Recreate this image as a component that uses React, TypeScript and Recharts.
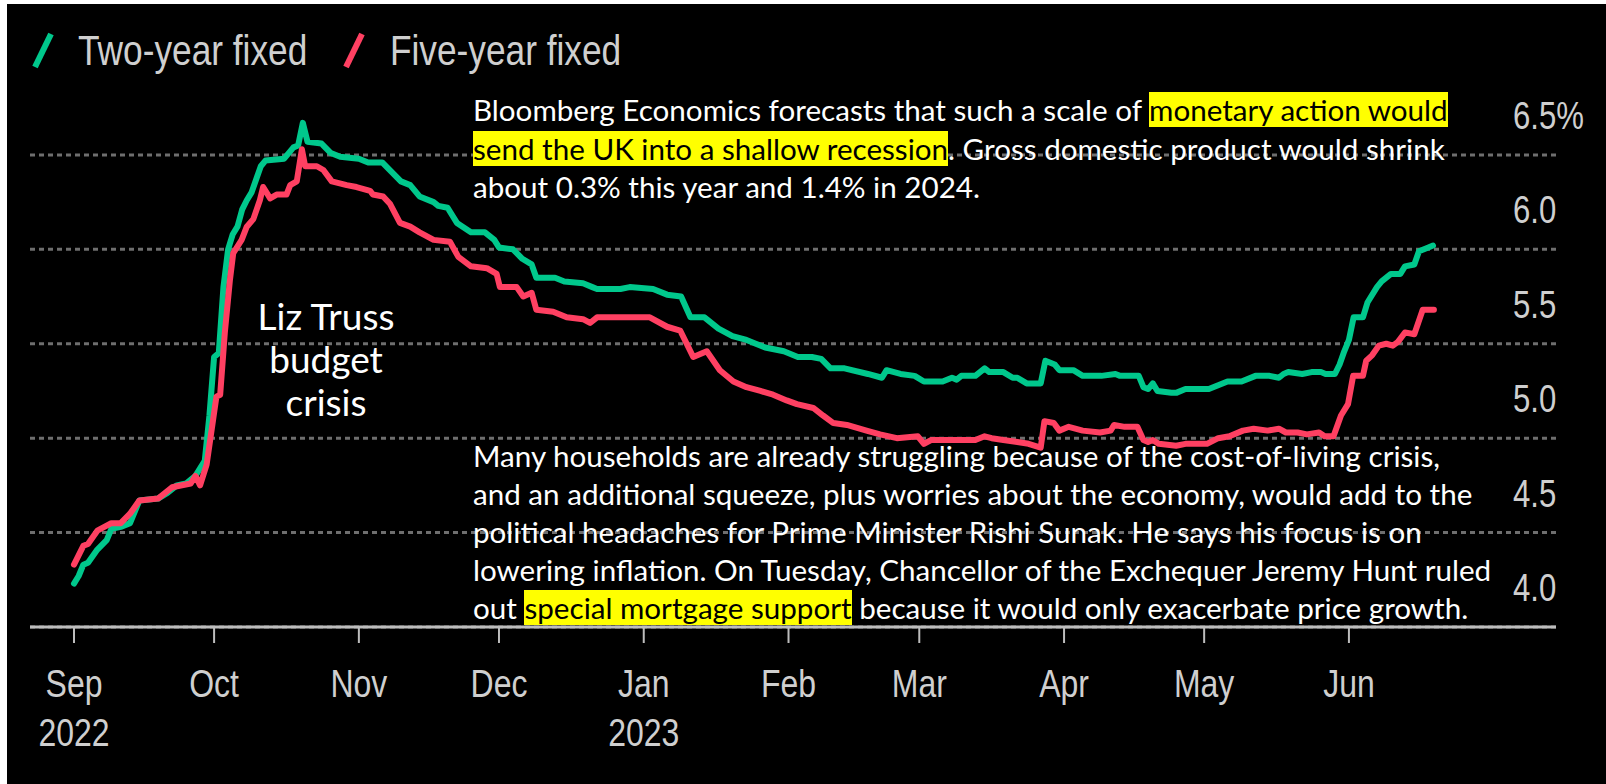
import React from "react"
import { LineChart, Line, XAxis, YAxis, CartesianGrid, Legend } from "recharts"

// days counted from 1 Sep 2022, rate in %
const twoYearFixed: [number, number][] = [
  [0, 4.23], [1, 4.27], [2, 4.33], [3, 4.34], [5, 4.41], [7, 4.46], [8, 4.52], [10, 4.53],
  [12, 4.55], [14, 4.67], [18, 4.68], [20, 4.71], [22, 4.75], [24, 4.76], [26, 4.8], [28, 4.88],
  [29, 5.12], [30, 5.43], [31, 5.45], [32, 5.8], [33, 6.0], [34, 6.08], [35, 6.12], [36, 6.21],
  [37, 6.26], [38, 6.3], [40, 6.44], [41, 6.47], [45, 6.48], [47, 6.54], [48, 6.55], [49, 6.67],
  [50, 6.57], [53, 6.56], [55, 6.51], [57, 6.49], [61, 6.48], [63, 6.46], [66, 6.46], [68, 6.41],
  [70, 6.36], [72, 6.34], [74, 6.28], [77, 6.25], [78, 6.23], [80, 6.22], [82, 6.14], [85, 6.09],
  [88, 6.09], [90, 6.05], [91, 6.01], [94, 6.0], [96, 5.95], [98, 5.92], [99, 5.85], [103, 5.85],
  [105, 5.83], [109, 5.82], [111, 5.8], [112, 5.79], [117, 5.79], [119, 5.8], [124, 5.79], [127, 5.76],
  [130, 5.75], [132, 5.64], [135, 5.64], [138, 5.58], [141, 5.54], [144, 5.52], [146, 5.5], [148, 5.48],
  [152, 5.46], [155, 5.43], [158, 5.43], [160, 5.42], [162, 5.37], [165, 5.37], [170, 5.34], [173, 5.32],
  [174, 5.36], [177, 5.34], [180, 5.33], [182, 5.3], [186, 5.3], [188, 5.32], [189, 5.31], [190, 5.33],
  [193, 5.33], [195, 5.37], [196, 5.35], [199, 5.35], [201, 5.32], [202, 5.32], [204, 5.29], [207, 5.29],
  [208, 5.41], [210, 5.39], [211, 5.36], [214, 5.36], [216, 5.33], [220, 5.33], [223, 5.34], [224, 5.33],
  [228, 5.33], [229, 5.27], [230, 5.26], [231, 5.29], [232, 5.25], [235, 5.24], [236, 5.24], [238, 5.26],
  [243, 5.26], [245, 5.28], [247, 5.3], [250, 5.3], [253, 5.33], [256, 5.33], [258, 5.32], [259, 5.34],
  [260, 5.35], [263, 5.34], [265, 5.35], [267, 5.35], [268, 5.34], [270, 5.34], [271, 5.39], [272, 5.46],
  [273, 5.52], [274, 5.64], [276, 5.64], [277, 5.72], [279, 5.8], [280, 5.83], [282, 5.87], [284, 5.87],
  [285, 5.91], [287, 5.92], [288, 5.99], [290, 6.01], [291, 6.02],
]

const fiveYearFixed: [number, number][] = [
  [0, 4.33], [2, 4.43], [3, 4.44], [5, 4.51], [8, 4.55], [10, 4.55], [12, 4.6], [14, 4.67],
  [18, 4.68], [21, 4.74], [25, 4.76], [26, 4.8], [27, 4.75], [28.4, 4.86], [29.8, 5.1], [30.5, 5.22],
  [31.3, 5.23], [32.3, 5.56], [33.4, 5.84], [34.1, 5.98], [35.9, 6.05], [37, 6.12], [38.4, 6.16], [39.8, 6.26],
  [40.5, 6.33], [42, 6.27], [43.4, 6.29], [45.5, 6.29], [46.3, 6.34], [47.7, 6.36], [48.8, 6.53], [49.5, 6.44],
  [52, 6.44], [53.4, 6.42], [55.2, 6.36], [58.4, 6.34], [60.5, 6.33], [63.4, 6.31], [64, 6.29], [66.2, 6.28],
  [67.7, 6.24], [69.8, 6.14], [72, 6.12], [74, 6.09], [77, 6.05], [80.5, 6.04], [82.3, 5.96], [85, 5.91],
  [88.4, 5.9], [90.5, 5.87], [91.2, 5.8], [94.8, 5.8], [96.2, 5.75], [98, 5.77], [99, 5.68], [102.6, 5.67],
  [105.5, 5.64], [109, 5.63], [110.5, 5.61], [112, 5.64], [119.8, 5.64], [123.3, 5.64], [127, 5.59], [129.8, 5.57],
  [132.6, 5.43], [135.5, 5.46], [138.3, 5.36], [141.2, 5.3], [144, 5.27], [147, 5.25], [149.7, 5.23], [152.6, 5.2],
  [154.8, 5.18], [158.3, 5.16], [160.4, 5.12], [162.6, 5.08], [165.5, 5.07], [169.7, 5.04], [172.6, 5.02], [176.2, 5.0],
  [180.7, 5.01], [182, 4.97], [183.5, 4.99], [186, 4.99], [190, 4.99], [193, 4.99], [195, 5.01], [196.5, 5.0],
  [199, 4.99], [202, 4.98], [204.4, 4.97], [207, 4.95], [207.8, 5.09], [209.8, 5.08], [211, 5.04], [213, 5.06],
  [216, 5.04], [219.7, 5.03], [222, 5.04], [222.7, 5.07], [225, 5.06], [227.7, 5.06], [229, 4.99], [230, 4.98],
  [231, 4.99], [232.3, 4.97], [236, 4.96], [238, 4.97], [242.6, 4.97], [245, 5.0], [247.4, 5.01], [250.3, 5.04],
  [252.6, 5.05], [255.6, 5.04], [258, 5.05], [259.5, 5.03], [262, 5.03], [264, 5.02], [266.6, 5.03], [267.8, 5.01],
  [269.7, 5.01], [271.3, 5.12], [272.8, 5.18], [273.9, 5.33], [276, 5.33], [276.7, 5.41], [278, 5.44], [279.4, 5.49],
  [281, 5.5], [282.4, 5.49], [283.5, 5.51], [285, 5.56], [287, 5.55], [288.8, 5.68], [291.2, 5.68],
]

const monthTicks = [0, 30, 61, 91, 122, 153, 181, 212, 242, 273]
const monthLabels = ["Sep", "Oct", "Nov", "Dec", "Jan", "Feb", "Mar", "Apr", "May", "Jun"]
const yearLabels = ["2022", "", "", "", "2023", "", "", "", "", ""]

const rateTicks = [4, 4.5, 5, 5.5, 6, 6.5]
const rateLabels = ["4.0", "4.5", "5.0", "5.5", "6.0", "6.5%"]

const seriesNames = ["Two-year fixed", "Five-year fixed"]
const seriesColors = ["#00c88c", "#ff4062"]

const toRows = (pts: [number, number][]) => pts.map(([day, rate]) => ({ day, rate }))

// no narrow face installed, so squeeze Liberation Sans horizontally
const axisFont = "'Liberation Sans', Arial, sans-serif"
const squeeze = 0.82
const noteFont = "Lato, 'Open Sans', sans-serif"
const axisGrey = "#cfcfcf"

const MonthTick = (props: any) => {
  const { x, y, payload } = props
  const i = monthTicks.indexOf(payload.value)
  return (
    <g>
      <text transform={`translate(${x},${y + 52}) scale(${squeeze},1)`} textAnchor="middle" fill={axisGrey} fontSize={39} fontFamily={axisFont}>
        {monthLabels[i]}
      </text>
      {yearLabels[i] && (
        <text transform={`translate(${x},${y + 101}) scale(${squeeze},1)`} textAnchor="middle" fill={axisGrey} fontSize={39} fontFamily={axisFont}>
          {yearLabels[i]}
        </text>
      )}
    </g>
  )
}

const RateTick = (props: any) => {
  const { x, y, payload } = props
  const i = rateTicks.indexOf(payload.value)
  return (
    <text transform={`translate(${x - 43},${y - 26}) scale(${squeeze},1)`} textAnchor="start" fill={axisGrey} fontSize={38} fontFamily={axisFont}>
      {rateLabels[i]}
    </text>
  )
}

const LegendContent = () => (
  <div style={{ position: "relative", width: 700, height: 0 }}>
    {seriesNames.map((name, i) => (
      <div key={name} style={{ position: "absolute", left: i === 0 ? 32 : 343, top: 28, width: 320, height: 44 }}>
        <svg width={22} height={40} style={{ position: "absolute", left: 0, top: 2 }}>
          <line x1={3} y1={37} x2={19} y2={4} stroke={seriesColors[i]} strokeWidth={6} />
        </svg>
        <span
          style={{
            position: "absolute",
            left: i === 0 ? 46 : 47,
            top: 0,
            fontFamily: axisFont,
            fontSize: 43,
            color: axisGrey,
            lineHeight: "44px",
            whiteSpace: "nowrap",
            transform: `scaleX(${squeeze})`,
            transformOrigin: "left center",
          }}
        >
          {name}
        </span>
      </div>
    ))}
  </div>
)

const hl: React.CSSProperties = { background: "#ffff00", color: "#000" }

export default function App() {
  return (
    <div style={{ position: "absolute", left: 0, top: 0, width: 1606, height: 784, background: "#fff", overflow: "hidden" }}>
      <div style={{ position: "absolute", left: 7, top: 4, right: 0, bottom: 0, background: "#000" }} />
      <div style={{ position: "absolute", left: 0, top: 0 }}>
        {/* domain runs to 7 so the 6.67 peak stands above the 6.5 line, as in the original */}
        <LineChart width={1606} height={784} margin={{ top: 60.5, right: 0, bottom: 0, left: 30 }}>
          <CartesianGrid vertical={false} horizontalValues={rateTicks} stroke="#6e6e6e" strokeWidth={3} strokeDasharray="5 4" />
          <XAxis
            type="number"
            dataKey="day"
            domain={[-9.42, 317.34]}
            allowDataOverflow
            ticks={monthTicks}
            interval={0}
            height={157}
            tickSize={16}
            axisLine={{ stroke: "#bdbdbd", strokeWidth: 3 }}
            tickLine={{ stroke: "#bdbdbd", strokeWidth: 2 }}
            tick={<MonthTick />}
          />
          <YAxis
            orientation="right"
            width={50}
            domain={[4, 7]}
            allowDataOverflow
            ticks={rateTicks}
            interval={0}
            axisLine={false}
            tickLine={false}
            tickSize={0}
            tickMargin={0}
            tick={<RateTick />}
          />
          <Legend verticalAlign="top" align="left" height={0} wrapperStyle={{ top: 0, left: 0, height: 0 }} content={<LegendContent />} />
          <Line
            data={toRows(twoYearFixed)}
            dataKey="rate"
            name={seriesNames[0]}
            type="linear"
            stroke={seriesColors[0]}
            strokeWidth={6}
            strokeLinejoin="round"
            strokeLinecap="round"
            dot={false}
            isAnimationActive={false}
          />
          <Line
            data={toRows(fiveYearFixed)}
            dataKey="rate"
            name={seriesNames[1]}
            type="linear"
            stroke={seriesColors[1]}
            strokeWidth={6}
            strokeLinejoin="round"
            strokeLinecap="round"
            dot={false}
            isAnimationActive={false}
          />
        </LineChart>
      </div>

      <div style={{ position: "absolute", left: 226, width: 200, top: 294, textAlign: "center", color: "#fff", fontFamily: noteFont, fontSize: 37, lineHeight: "43px" }}>
        Liz Truss<br />budget<br />crisis
      </div>

      <div style={{ position: "absolute", left: 473, top: 91, color: "#fff", fontFamily: noteFont, fontSize: 29.6, lineHeight: "38.5px", whiteSpace: "nowrap" }}>
        Bloomberg Economics forecasts that such a scale of <span style={hl}>monetary action would</span>
        <br />
        <span style={hl}>send the UK into a shallow recession</span>. Gross domestic product would shrink
        <br />
        about 0.3% this year and 1.4% in 2024.
      </div>

      <div style={{ position: "absolute", left: 473, top: 437, color: "#fff", fontFamily: noteFont, fontSize: 29.6, lineHeight: "38px", whiteSpace: "nowrap" }}>
        Many households are already struggling because of the cost-of-living crisis,
        <br />
        and an additional squeeze, plus worries about the economy, would add to the
        <br />
        political headaches for Prime Minister Rishi Sunak. He says his focus is on
        <br />
        lowering inflation. On Tuesday, Chancellor of the Exchequer Jeremy Hunt ruled
        <br />
        out <span style={hl}>special mortgage support</span> because it would only exacerbate price growth.
      </div>
    </div>
  )
}
